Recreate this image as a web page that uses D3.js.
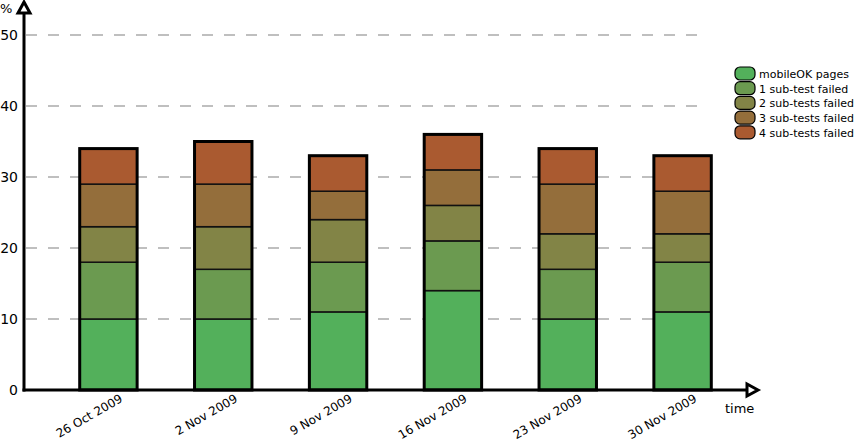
<!DOCTYPE html>
<html>
<head>
<meta charset="utf-8">
<script src="https://cdn.jsdelivr.net/npm/d3@7"></script>
<style>
  body { margin: 0; background: #fff; }
  text { font-family: "DejaVu Sans", sans-serif; }
</style>
</head>
<body>
<div id="chart"></div>
<script>
var width = 855,
    height = 441;

var dates = ["26 Oct 2009", "2 Nov 2009", "9 Nov 2009", "16 Nov 2009", "23 Nov 2009", "30 Nov 2009"];
var seriesNames = ["mobileOK pages", "1 sub-test failed", "2 sub-tests failed", "3 sub-tests failed", "4 sub-tests failed"];
var colors = ["#53b05b", "#6b9a50", "#828446", "#946e3b", "#aa5a30"];

// percent of pages per date, one array per series
var mobileOK = [10, 10, 11, 14, 10, 11];
var failed1  = [8, 7, 7, 7, 7, 7];
var failed2  = [5, 6, 6, 5, 5, 4];
var failed3  = [6, 6, 4, 5, 7, 6];
var failed4  = [5, 6, 5, 5, 5, 5];
var yTicks = [0, 10, 20, 30, 40, 50];

var rows = dates.map(function(d, i) {
  return { date: d, s0: mobileOK[i], s1: failed1[i], s2: failed2[i], s3: failed3[i], s4: failed4[i] };
});
var keys = ["s0", "s1", "s2", "s3", "s4"];
var stacked = d3.stack().keys(keys)(rows);

var svg = d3.select("#chart")
  .append("svg")
  .attr("width", width)
  .attr("height", height);

var y = d3.scaleLinear().domain([0, 50]).range([390, 35]);
var x = d3.scaleBand().domain(dates).range([51, 740]).paddingInner(0.5).paddingOuter(0.25);

// grid
svg.append("g").selectAll("line")
  .data(yTicks.slice(1))
  .enter()
  .append("line")
  .attr("x1", 26)
  .attr("x2", 702)
  .attr("y1", function(d) { return y(d); })
  .attr("y2", function(d) { return y(d); })
  .attr("stroke", "#aaa")
  .attr("stroke-width", 1.5)
  .attr("stroke-dasharray", "11,11");

// y tick labels
svg.append("g").selectAll("text")
  .data(yTicks)
  .enter()
  .append("text")
  .attr("x", 18)
  .attr("y", function(d) { return y(d) + 5; })
  .attr("text-anchor", "end")
  .attr("font-size", "14px")
  .text(function(d) { return d; });

// bars
var layers = svg.append("g").selectAll("g")
  .data(stacked)
  .enter()
  .append("g")
  .attr("fill", function(d, i) { return colors[i]; });

layers.selectAll("rect")
  .data(function(d) { return d; })
  .enter()
  .append("rect")
  .attr("x", function(d) { return x(d.data.date); })
  .attr("width", x.bandwidth())
  .attr("y", function(d) { return y(d[1]); })
  .attr("height", function(d) { return y(d[0]) - y(d[1]); })
  .attr("stroke", "#111")
  .attr("stroke-width", 1.5);

// thick outline per bar
svg.append("g").selectAll("rect")
  .data(stacked[stacked.length - 1])
  .enter()
  .append("rect")
  .attr("x", function(d) { return x(d.data.date); })
  .attr("width", x.bandwidth())
  .attr("y", function(d) { return y(d[1]); })
  .attr("height", function(d) { return y(0) - y(d[1]); })
  .attr("fill", "none")
  .attr("stroke", "#000")
  .attr("stroke-width", 3);

// axes
svg.append("line")
  .attr("x1", 24).attr("x2", 24)
  .attr("y1", 391.5).attr("y2", 12)
  .attr("stroke", "#000").attr("stroke-width", 3);
svg.append("line")
  .attr("x1", 22.5).attr("x2", 748)
  .attr("y1", 390).attr("y2", 390)
  .attr("stroke", "#000").attr("stroke-width", 3);

// arrow heads
svg.append("path")
  .attr("d", "M24,2 L30,13 L18,13 Z")
  .attr("fill", "#fff").attr("stroke", "#000").attr("stroke-width", 3)
  .attr("stroke-linejoin", "miter");
svg.append("path")
  .attr("d", "M758,390 L747,384 L747,396 Z")
  .attr("fill", "#fff").attr("stroke", "#000").attr("stroke-width", 3)
  .attr("stroke-linejoin", "miter");

svg.append("text")
  .attr("x", 0).attr("y", 13)
  .attr("font-size", "13px")
  .text("%");
svg.append("text")
  .attr("x", 725).attr("y", 413)
  .attr("font-size", "13px")
  .text("time");

// x labels
svg.append("g").selectAll("text")
  .data(dates)
  .enter()
  .append("text")
  .attr("transform", function(d) {
    return "translate(" + (x(d) + x.bandwidth() / 2 + 15) + ",401) rotate(-30)";
  })
  .attr("text-anchor", "end")
  .attr("font-size", "12px")
  .text(function(d) { return d; });

// legend
var legend = svg.append("g").selectAll("g")
  .data(seriesNames)
  .enter()
  .append("g")
  .attr("transform", function(d, i) { return "translate(735," + (67 + i * 14.7) + ")"; });

legend.append("rect")
  .attr("width", 20)
  .attr("height", 13)
  .attr("rx", 5)
  .attr("fill", function(d, i) { return colors[i]; })
  .attr("stroke", "#000")
  .attr("stroke-width", 1.2);

legend.append("text")
  .attr("x", 24)
  .attr("y", 11)
  .attr("font-size", "11px")
  .text(function(d) { return d; });
</script>
</body>
</html>
